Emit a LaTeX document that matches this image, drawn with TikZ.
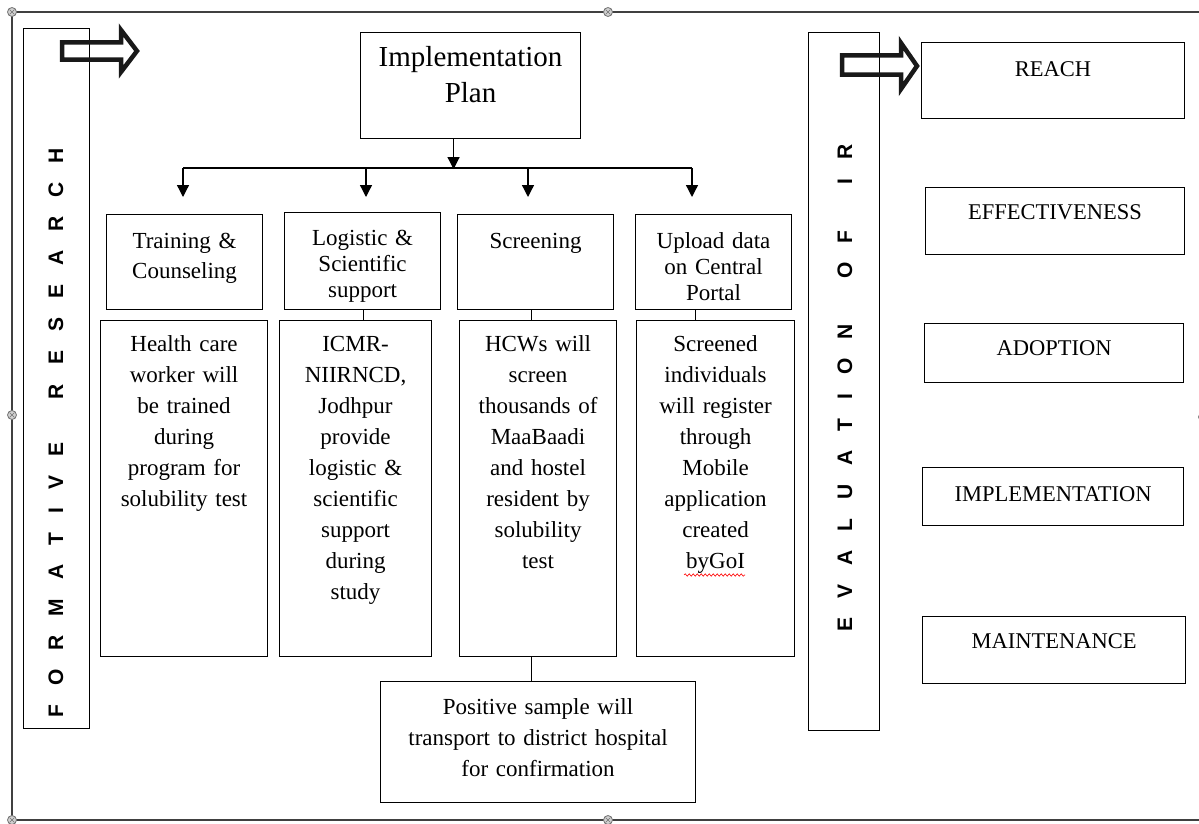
\documentclass[tikz,border=0pt]{standalone}
\usepackage{fontspec}
\setmainfont{Liberation Serif}
\newfontfamily\arialbd{Liberation Sans}
\usetikzlibrary{arrows.meta,decorations.pathmorphing}
\newcommand{\widespace}{\spaceskip=19pt\relax}

\tikzset{
  cell/.style={draw, line width=1.1pt, inner sep=0pt, align=center, anchor=north west,
    font=\fontsize{23}{31}\selectfont},
  rbox/.style={cell, font=\fontsize{22.5}{26}\selectfont},
  colbox/.style={draw, line width=1.1pt, inner sep=0pt, anchor=north west},
  vtext/.style={rotate=90, inner sep=0pt,
    font=\arialbd\bfseries\fontsize{21}{21}\selectfont},
  tip/.style={-{Triangle[length=12pt,width=12pt]}, line width=1.3pt},
  link/.style={line width=1.1pt},
  hollow/.style={line width=4.5pt, draw=black!90, line join=miter},
  frame/.style={line width=1.6pt, draw=black!75},
  handle/.style={draw=black!55, fill=black!18, line width=0.8pt},
}

\begin{document}
\begin{tikzpicture}[x=1pt,y=1pt,yscale=-1,xscale=1]
\useasboundingbox (0,0) rectangle (1199,824);

% outer frame and its handles
\draw[frame] (1204,12) -- (12,12) -- (12,820) -- (1204,820);
\foreach \hx/\hy in {12/12, 608/12, 12/415, 12/820, 608/820, 1203/417} {
  \draw[handle] (\hx,\hy) circle (4.5);
  \draw[black!55, line width=0.6pt] (\hx-2.5,\hy-2.5) -- (\hx+2.5,\hy+2.5) (\hx-2.5,\hy+2.5) -- (\hx+2.5,\hy-2.5);
}

% side columns
\node[colbox, minimum width=66pt, minimum height=700pt] (formbox) at (23,28) {};
\node[vtext] (formtext) at (56,433) {\widespace F O R M A T I V E\hspace{43pt}R E S E A R C H};
\node[colbox, minimum width=71pt, minimum height=698pt] (evalbox) at (808,32) {};
\node[vtext] (evaltext) at (845,388) {\widespace E V A L U A T I O N\hspace{46pt}O F\hspace{46pt}I R};

% hollow arrows
\draw[hollow] (62,42.3) -- (121,42.3) -- (121,30) -- (137,51) -- (121,72) -- (121,59.7) -- (62,59.7) -- cycle;
\draw[hollow] (842,55.3) -- (901,55.3) -- (901,43) -- (917,66) -- (901,89) -- (901,74.7) -- (842,74.7) -- cycle;

% plan and its branches
\node[cell, text width=220pt, text height=34pt, text depth=72pt, font=\fontsize{29}{36}\selectfont] (plan) at (360,32) {Implementation\\Plan};

\node[cell, text width=156pt, text height=34pt, text depth=61pt, font=\fontsize{23}{30}\selectfont] (train) at (106,214) {Training \&\\Counseling};
\node[cell, text width=156pt, text height=33pt, text depth=64pt, font=\fontsize{23}{26}\selectfont] (logi) at (284,212) {Logistic \&\\Scientific\\support};
\node[cell, text width=156pt, text height=34pt, text depth=61pt] (scr) at (457,214) {Screening};
\node[cell, text width=156pt, text height=34pt, text depth=61pt, font=\fontsize{23}{26}\selectfont] (upl) at (635,214) {Upload data\\on Central\\Portal};

\node[cell, text width=167pt, text height=31pt, text depth=305pt] (hcw) at (100,320) {Health care\\worker will\\be trained\\during\\program for\\solubility test};
\node[cell, text width=152pt, text height=31pt, text depth=305pt] (icmr) at (279,320) {ICMR-\\NIIRNCD,\\Jodhpur\\provide\\logistic \&\\scientific\\support\\during\\study};
\node[cell, text width=157pt, text height=31pt, text depth=305pt] (scrtext) at (459,320) {HCWs will\\screen\\thousands of\\MaaBaadi\\and hostel\\resident by\\solubility\\test};
\node[cell, text width=158pt, text height=31pt, text depth=305pt] (reg) at (636,320) {Screened\\individuals\\will register\\through\\Mobile\\application\\created\\byGoI};
\draw[red, line width=0.6pt, decorate, decoration={snake, amplitude=1.2pt, segment length=4pt}] (684,575) -- (745,575);

\node[cell, text width=315pt, text height=33pt, text depth=88pt] (pos) at (380,681) {Positive sample will\\transport to district hospital\\for confirmation};

\draw[tip] ([xshift=-17pt]plan.south) -- ++(0,30);
\coordinate (barL) at (183,168);
\coordinate (barR) at (692,168);
\draw[link, line width=1.3pt] (barL) -- (barR);
\foreach \ax [count=\i] in {183,366,528,692} {
  \coordinate (top\i) at (\ax,168);
  \coordinate (end\i) at (\ax,197);
  \draw[tip] (top\i) -- (end\i);
}

\draw[link] ([xshift=1pt]logi.south) -- ([xshift=1pt]logi.south |- icmr.north);
\draw[link] ([xshift=-4pt]scr.south) -- ([xshift=-4pt]scr.south |- scrtext.north);
\draw[link] ([xshift=-18pt]upl.south) -- ([xshift=-18pt]upl.south |- reg.north);
\draw[link] ([xshift=-6.5pt]scrtext.south) -- ([xshift=-6.5pt]scrtext.south |- pos.north);

% RE-AIM boxes
\node[rbox, text width=263pt, text height=34pt, text depth=42pt] (reach) at (921,42) {REACH};
\node[rbox, text width=259pt, text height=32pt, text depth=35pt] (effect) at (925,187) {EFFECTIVENESS};
\node[rbox, text width=259pt, text height=32pt, text depth=27pt] (adopt) at (924,323) {ADOPTION};
\node[rbox, text width=261pt, text height=34pt, text depth=24pt] (implem) at (922,467) {IMPLEMENTATION};
\node[rbox, text width=263pt, text height=32pt, text depth=35pt] (maint) at (922,616) {MAINTENANCE};
\end{tikzpicture}
\end{document}
